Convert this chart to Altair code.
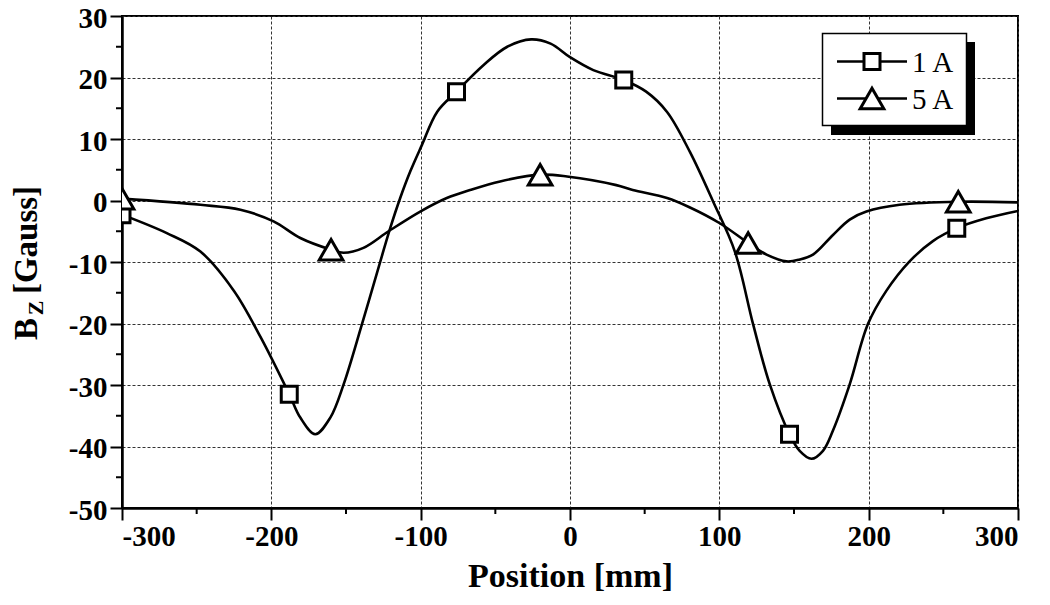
import altair as alt
import pandas as pd

# ---- data ----
x_1a = [-300, -270, -247.5, -225, -207, -188, -180.6, -170.6, -160.5, -151.6, -139.3, -127, -120.4, -113.7,
        -107, -99.2, -89, -76, -58, -42, -26, -13, 0, 15.6, 36, 51, 65, 80.3, 95.9, 110.4, 122.6, 133.8,
        147, 153.8, 161.7, 169.4, 176.1, 187.3, 199.5, 211.8, 227.4, 243, 259, 278.7, 300]
y_1a = [-2.3, -5.3, -8.3, -14.7, -22.3, -31.5, -35.3, -38, -35.3, -29.9, -20.1, -9.9, -4.5, 0.4,
        4.7, 9.0, 14.4, 17.7, 22, 25, 26.2, 25.5, 23.3, 21.2, 19.6, 17.7, 14.4, 7.9, -0.2, -8.3, -20.1, -29.9,
        -38, -40.7, -42, -40.7, -37.4, -29.9, -20.1, -14.7, -9.9, -6.6, -4.5, -2.9, -1.7]

x_5a = [-300, -247.5, -220.7, -198.5, -180.6, -160, -151.6, -138.3, -121.5, -100.3, -82.5, -66.9, -46.8,
        -20, -2, 31, 42, 65, 80, 100.3, 119.3, 131.6, 145, 153.8, 162.7, 176.1, 187.3, 198.5, 220.7, 260, 300]
y_5a = [0.3, -0.7, -1.5, -3.4, -6.1, -8.0, -8.5, -7.7, -5.0, -1.8, 0.4, 1.7, 3.1,
        4.2, 3.9, 2.5, 1.7, 0.4, -1.1, -3.7, -6.9, -8.8, -9.9, -9.6, -8.8, -5.6, -3.1, -1.8, -0.7, -0.2, -0.3]

mk_x_1a = [-300, -188, -76, 36, 147, 259]
mk_y_1a = [-2.3, -31.5, 17.7, 19.6, -38, -4.5]
mk_x_5a = [-300, -160, -20, 119.3, 260]
mk_y_5a = [0.3, -8.0, 4.2, -6.9, -0.2]

series = ["1 A", "5 A"]
x_ticks = [-300, -200, -100, 0, 100, 200, 300]
y_ticks = [-50, -40, -30, -20, -10, 0, 10, 20, 30]
x_minor = [-250, -150, -50, 50, 150, 250]
y_minor = [-45, -35, -25, -15, -5, 5, 15, 25]

W, H = 896, 492
SERIF = "Liberation Serif"

curve = pd.concat([
    pd.DataFrame({"x": x_1a, "y": y_1a, "s": series[0]}),
    pd.DataFrame({"x": x_5a, "y": y_5a, "s": series[1]}),
])
marks = pd.concat([
    pd.DataFrame({"x": mk_x_1a, "y": mk_y_1a, "s": series[0]}),
    pd.DataFrame({"x": mk_x_5a, "y": mk_y_5a, "s": series[1]}),
])

xs = alt.Scale(domain=[-300, 300], nice=False)
ys = alt.Scale(domain=[-50, 30], nice=False)

common_axis = dict(
    grid=True, gridColor="#333333", gridDash=[3, 2], gridWidth=1,
    domainColor="black", domainWidth=2.5, tickColor="black", tickWidth=2, tickSize=12,
    labelFont=SERIF, labelFontWeight="bold", labelFontSize=29, labelColor="black",
    labelExpr="'' + datum.value",
)

x_axis = alt.Axis(values=x_ticks, labelPadding=2, title="Position [mm]",
                  titleFont=SERIF, titleFontSize=34, titleFontWeight="bold", titleColor="black",
                  titlePadding=8, **common_axis)
y_axis = alt.Axis(values=y_ticks, labelPadding=3, labelOffset=2, title=None, **common_axis)

shape_scale = alt.Scale(domain=series, range=["square", "triangle-up"])
size_scale = alt.Scale(domain=series, range=[256, 560])

lines = alt.Chart(curve).mark_line(color="black", strokeWidth=2.6, interpolate="catmull-rom", clip=True).encode(
    x=alt.X("x:Q", scale=xs, axis=x_axis),
    y=alt.Y("y:Q", scale=ys, axis=y_axis),
    detail="s:N",
)

points = alt.Chart(marks).mark_point(filled=False, fill="white", fillOpacity=1, color="black",
                                     strokeWidth=3, opacity=1, clip=True).encode(
    x=alt.X("x:Q", scale=xs),
    y=alt.Y("y:Q", scale=ys),
    shape=alt.Shape("s:N", scale=shape_scale, legend=None),
    size=alt.Size("s:N", scale=size_scale, legend=None),
)

# minor ticks
xmin_df = pd.DataFrame({"x": x_minor})
ymin_df = pd.DataFrame({"y": y_minor})
xminor = alt.Chart(xmin_df).mark_rule(color="black", strokeWidth=2).encode(
    x=alt.X("x:Q", scale=xs), y=alt.value(H), y2=alt.value(H + 6))
yminor = alt.Chart(ymin_df).mark_rule(color="black", strokeWidth=2).encode(
    y=alt.Y("y:Q", scale=ys), x=alt.value(-6), x2=alt.value(0))

one = pd.DataFrame({"a": [0]})

# y title: B_Z [Gauss]
yt_b = alt.Chart(one).mark_text(text="B", font=SERIF, fontWeight="bold", fontSize=33, angle=270,
                                align="center", baseline="middle", color="black").encode(
    x=alt.value(-95), y=alt.value(313))
yt_z = alt.Chart(one).mark_text(text="Z", font=SERIF, fontWeight="bold", fontSize=22, angle=270,
                                align="center", baseline="middle", color="black").encode(
    x=alt.value(-86), y=alt.value(292))
yt_g = alt.Chart(one).mark_text(text="[Gauss]", font=SERIF, fontWeight="bold", fontSize=33, angle=270,
                                align="center", baseline="middle", color="black").encode(
    x=alt.value(-95), y=alt.value(224))

# legend
shadow = alt.Chart(one).mark_rect(color="black").encode(
    x=alt.value(709), x2=alt.value(853), y=alt.value(26), y2=alt.value(119))
box = alt.Chart(one).mark_rect(fill="white", stroke="black", strokeWidth=1.5).encode(
    x=alt.value(700.5), x2=alt.value(844.5), y=alt.value(17.5), y2=alt.value(109.5))
leg_df = pd.DataFrame({"s": series, "row": [0, 1]})
leg_rows = [45.5, 82.5]
leg_items = []
for i, s in enumerate(series):
    d = leg_df[leg_df.s == s]
    leg_items.append(alt.Chart(d).mark_rule(color="black", strokeWidth=2.6).encode(
        x=alt.value(715), x2=alt.value(785), y=alt.value(leg_rows[i])))
    leg_items.append(alt.Chart(d).mark_point(filled=False, fill="white", fillOpacity=1, color="black",
                                            strokeWidth=3, opacity=1).encode(
        x=alt.value(750), y=alt.value(leg_rows[i]),
        shape=alt.Shape("s:N", scale=shape_scale, legend=None),
        size=alt.Size("s:N", scale=size_scale, legend=None)))
    leg_items.append(alt.Chart(d).mark_text(font=SERIF, fontSize=29, align="left", baseline="middle",
                                           color="black").encode(
        x=alt.value(790), y=alt.value(leg_rows[i] + 1), text="s:N"))

chart = alt.layer(lines, points, xminor, yminor, yt_b, yt_z, yt_g, shadow, box, *leg_items).properties(
    width=W, height=H,
    autosize=alt.AutoSizeParams(type="none"),
    padding={"left": 114, "top": 8, "right": 24, "bottom": 90},
).configure_view(stroke="black", strokeWidth=2)

chart.save("out.html", embed_options={"renderer": "svg", "actions": False})
